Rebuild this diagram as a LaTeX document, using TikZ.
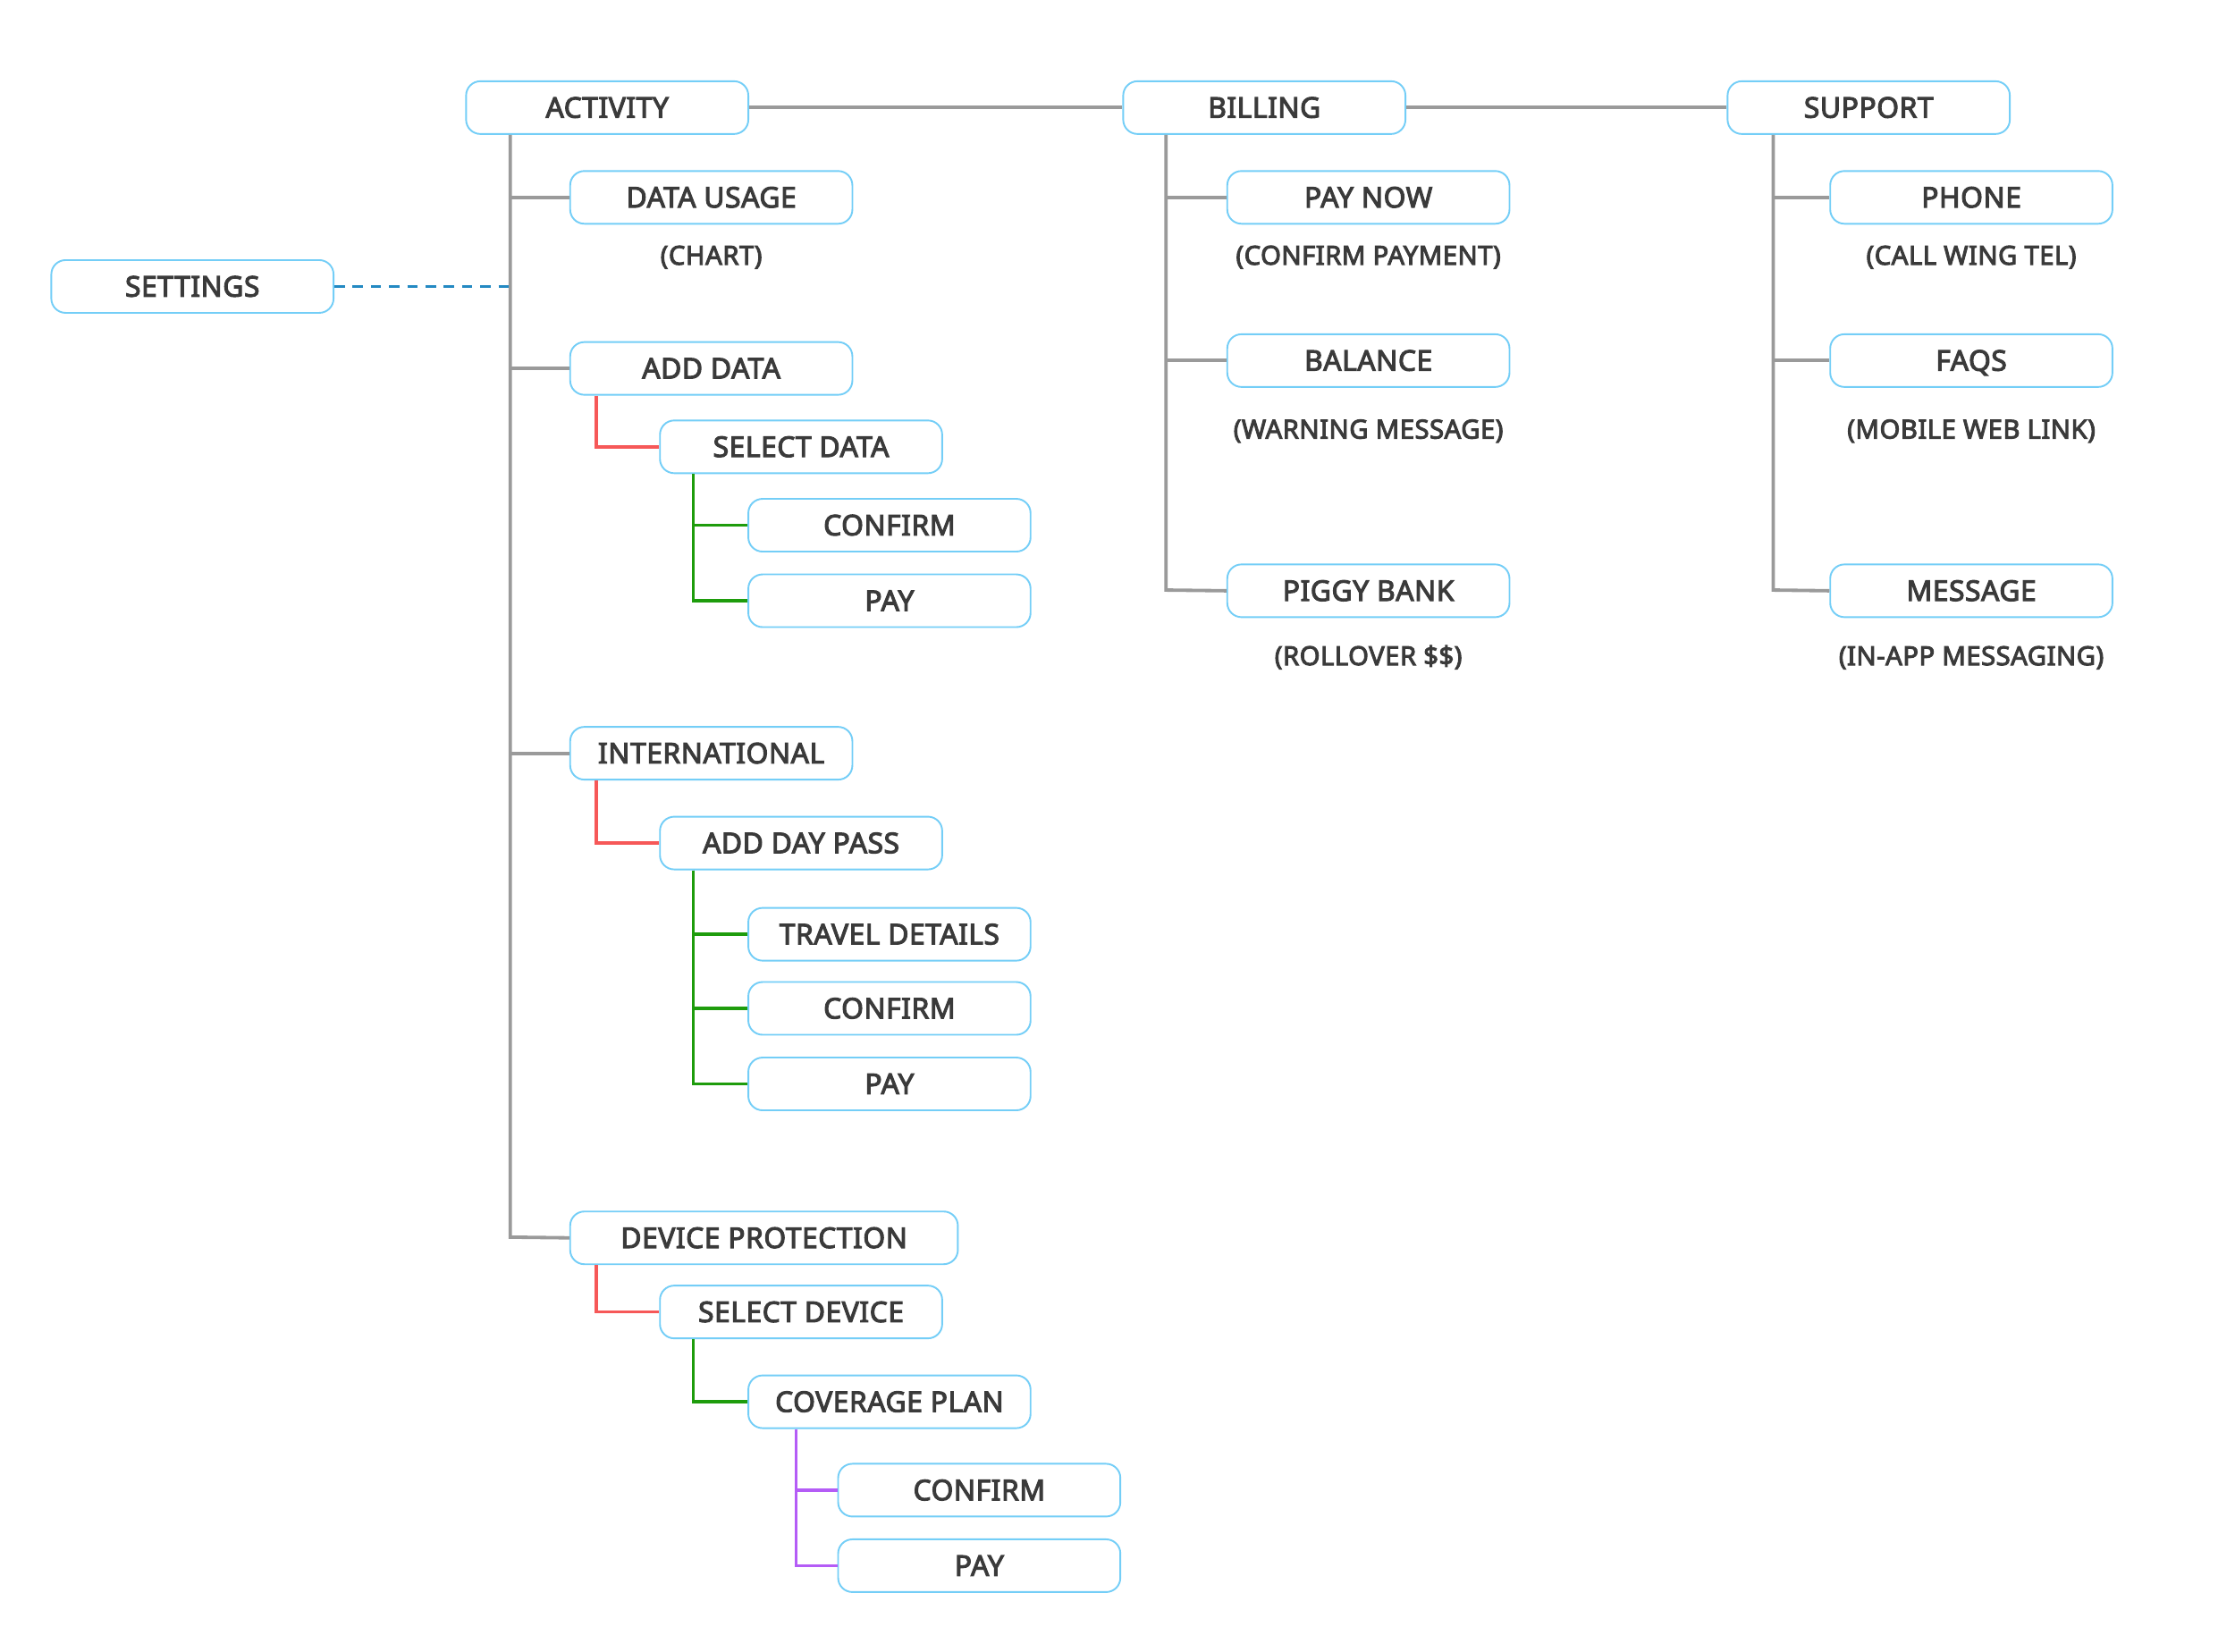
\documentclass[tikz,border=0pt]{standalone}
\usepackage{fontspec}
\setmainfont{Noto Sans}
\newfontfamily\medf{Noto Sans}[FakeBold=3.3,LetterSpace=1.5]
\usetikzlibrary{calc}
\definecolor{boxblue}{HTML}{74CEF7}
\definecolor{linegray}{HTML}{9A9A9A}
\definecolor{lred}{HTML}{F65858}
\definecolor{lgreen}{HTML}{1E9C0C}
\definecolor{lpurple}{HTML}{B45CF6}
\definecolor{dblue}{HTML}{2389C2}
\definecolor{txt}{HTML}{3A3A3A}
\begin{document}
\begin{tikzpicture}[x=0.5pt,y=-0.5pt,
  box/.style={draw=boxblue,line width=0.6pt,rounded corners=5pt,fill=white,
    minimum width=99pt,minimum height=18.5pt,inner sep=0pt,
    text height=7.1pt,text depth=0pt,
    font=\medf\fontsize{10}{12}\selectfont,text=txt},
  note/.style={font=\medf\fontsize{9.2}{12}\selectfont,text=txt,inner sep=0pt,
    text height=6.7pt,text depth=0pt},
  gl/.style={draw=linegray,line width=1.2pt},
  rl/.style={draw=lred,line width=1.1pt},
  grl/.style={draw=lgreen,line width=1.1pt},
  pl/.style={draw=lpurple,line width=1.1pt},
  dl/.style={draw=dblue,line width=1.1pt,dash pattern=on 3.6pt off 2.8pt}]
\useasboundingbox[fill=white] (0,0) rectangle (1568,1159);

\coordinate (tA) at (358,868);
\coordinate (tB) at (818,414);
\coordinate (tS) at (1244,414);

\node[box] (act) at (426,75.5) {ACTIVITY};
\node[box] (bil) at (887,75.5) {BILLING};
\node[box] (sup) at (1311,75.5) {SUPPORT};
\node[box] (set) at (135,201) {SETTINGS};

\node[box] (du) at (499,138.5) {DATA USAGE};
\node[note] (duN) at (499,179) {(CHART)};
\node[box] (ad) at (499,258.5) {ADD DATA};
\node[box] (sd) at (562,313.5) {SELECT DATA};
\node[box] (c1) at (624,368.5) {CONFIRM};
\node[box] (p1) at (624,421.5) {PAY};
\node[box] (int) at (499,528.5) {INTERNATIONAL};
\node[box] (adp) at (562,591.5) {ADD DAY PASS};
\node[box] (td) at (624,655.5) {TRAVEL DETAILS};
\node[box] (c2) at (624,707.5) {CONFIRM};
\node[box] (p2) at (624,760.5) {PAY};
\node[box,minimum width=136pt] (dp) at (536,868.5) {DEVICE PROTECTION};
\node[box] (sdv) at (562,920.5) {SELECT DEVICE};
\node[box] (cp) at (624,983.5) {COVERAGE PLAN};
\node[box] (c3) at (687,1045.5) {CONFIRM};
\node[box] (p3) at (687,1098.5) {PAY};

\node[box] (pn) at (960,138.5) {PAY NOW};
\node[note] (pnN) at (960,179) {(CONFIRM PAYMENT)};
\node[box] (bal) at (960,253) {BALANCE};
\node[note] (balN) at (960,301) {(WARNING MESSAGE)};
\node[box] (pig) at (960,414.5) {PIGGY BANK};
\node[note] (pigN) at (960,460) {(ROLLOVER \$\$)};

\node[box] (ph) at (1383,138.5) {PHONE};
\node[note] (phN) at (1383,179) {(CALL WING TEL)};
\node[box] (faq) at (1383,253) {FAQS};
\node[note] (faqN) at (1383,301) {(MOBILE WEB LINK)};
\node[box] (msg) at (1383,414.5) {MESSAGE};
\node[note] (msgN) at (1383,460) {(IN-APP MESSAGING)};

% top level links
\draw[gl] (act.east) -- (bil.west);
\draw[gl] (bil.east) -- (sup.west);

% activity trunk
\draw[gl] (act.south -| tA) -- (tA) -- (dp.west);
\draw[gl] (du.west) -- (du.west -| tA);
\draw[gl] (ad.west) -- (ad.west -| tA);
\draw[gl] (int.west) -- (int.west -| tA);
\draw[dl] (set.east) -- (set.east -| tA);

% billing trunk
\draw[gl] (bil.south -| tB) -- (tB) -- (pig.west);
\draw[gl] (pn.west) -- (pn.west -| tB);
\draw[gl] (bal.west) -- (bal.west -| tB);

% support trunk
\draw[gl] (sup.south -| tS) -- (tS) -- (msg.west);
\draw[gl] (ph.west) -- (ph.west -| tS);
\draw[gl] (faq.west) -- (faq.west -| tS);

% red
\draw[rl] ($(ad.south west)+(19,0)$) |- (sd.west);
\draw[rl] ($(int.south west)+(19,0)$) |- (adp.west);
\draw[rl] ($(dp.south west)+(19,0)$) |- (sdv.west);

% green
\draw[grl] ($(sd.south west)+(24,0)$) |- (p1.west);
\draw[grl] ($(sd.south west)+(24,0)$) |- (c1.west);
\draw[grl] ($(adp.south west)+(24,0)$) |- (p2.west);
\draw[grl] ($(adp.south west)+(24,0)$) |- (c2.west);
\draw[grl] ($(adp.south west)+(24,0)$) |- (td.west);
\draw[grl] ($(sdv.south west)+(24,0)$) |- (cp.west);

% purple
\draw[pl] ($(cp.south west)+(34,0)$) |- (p3.west);
\draw[pl] ($(cp.south west)+(34,0)$) |- (c3.west);
\end{tikzpicture}
\end{document}
